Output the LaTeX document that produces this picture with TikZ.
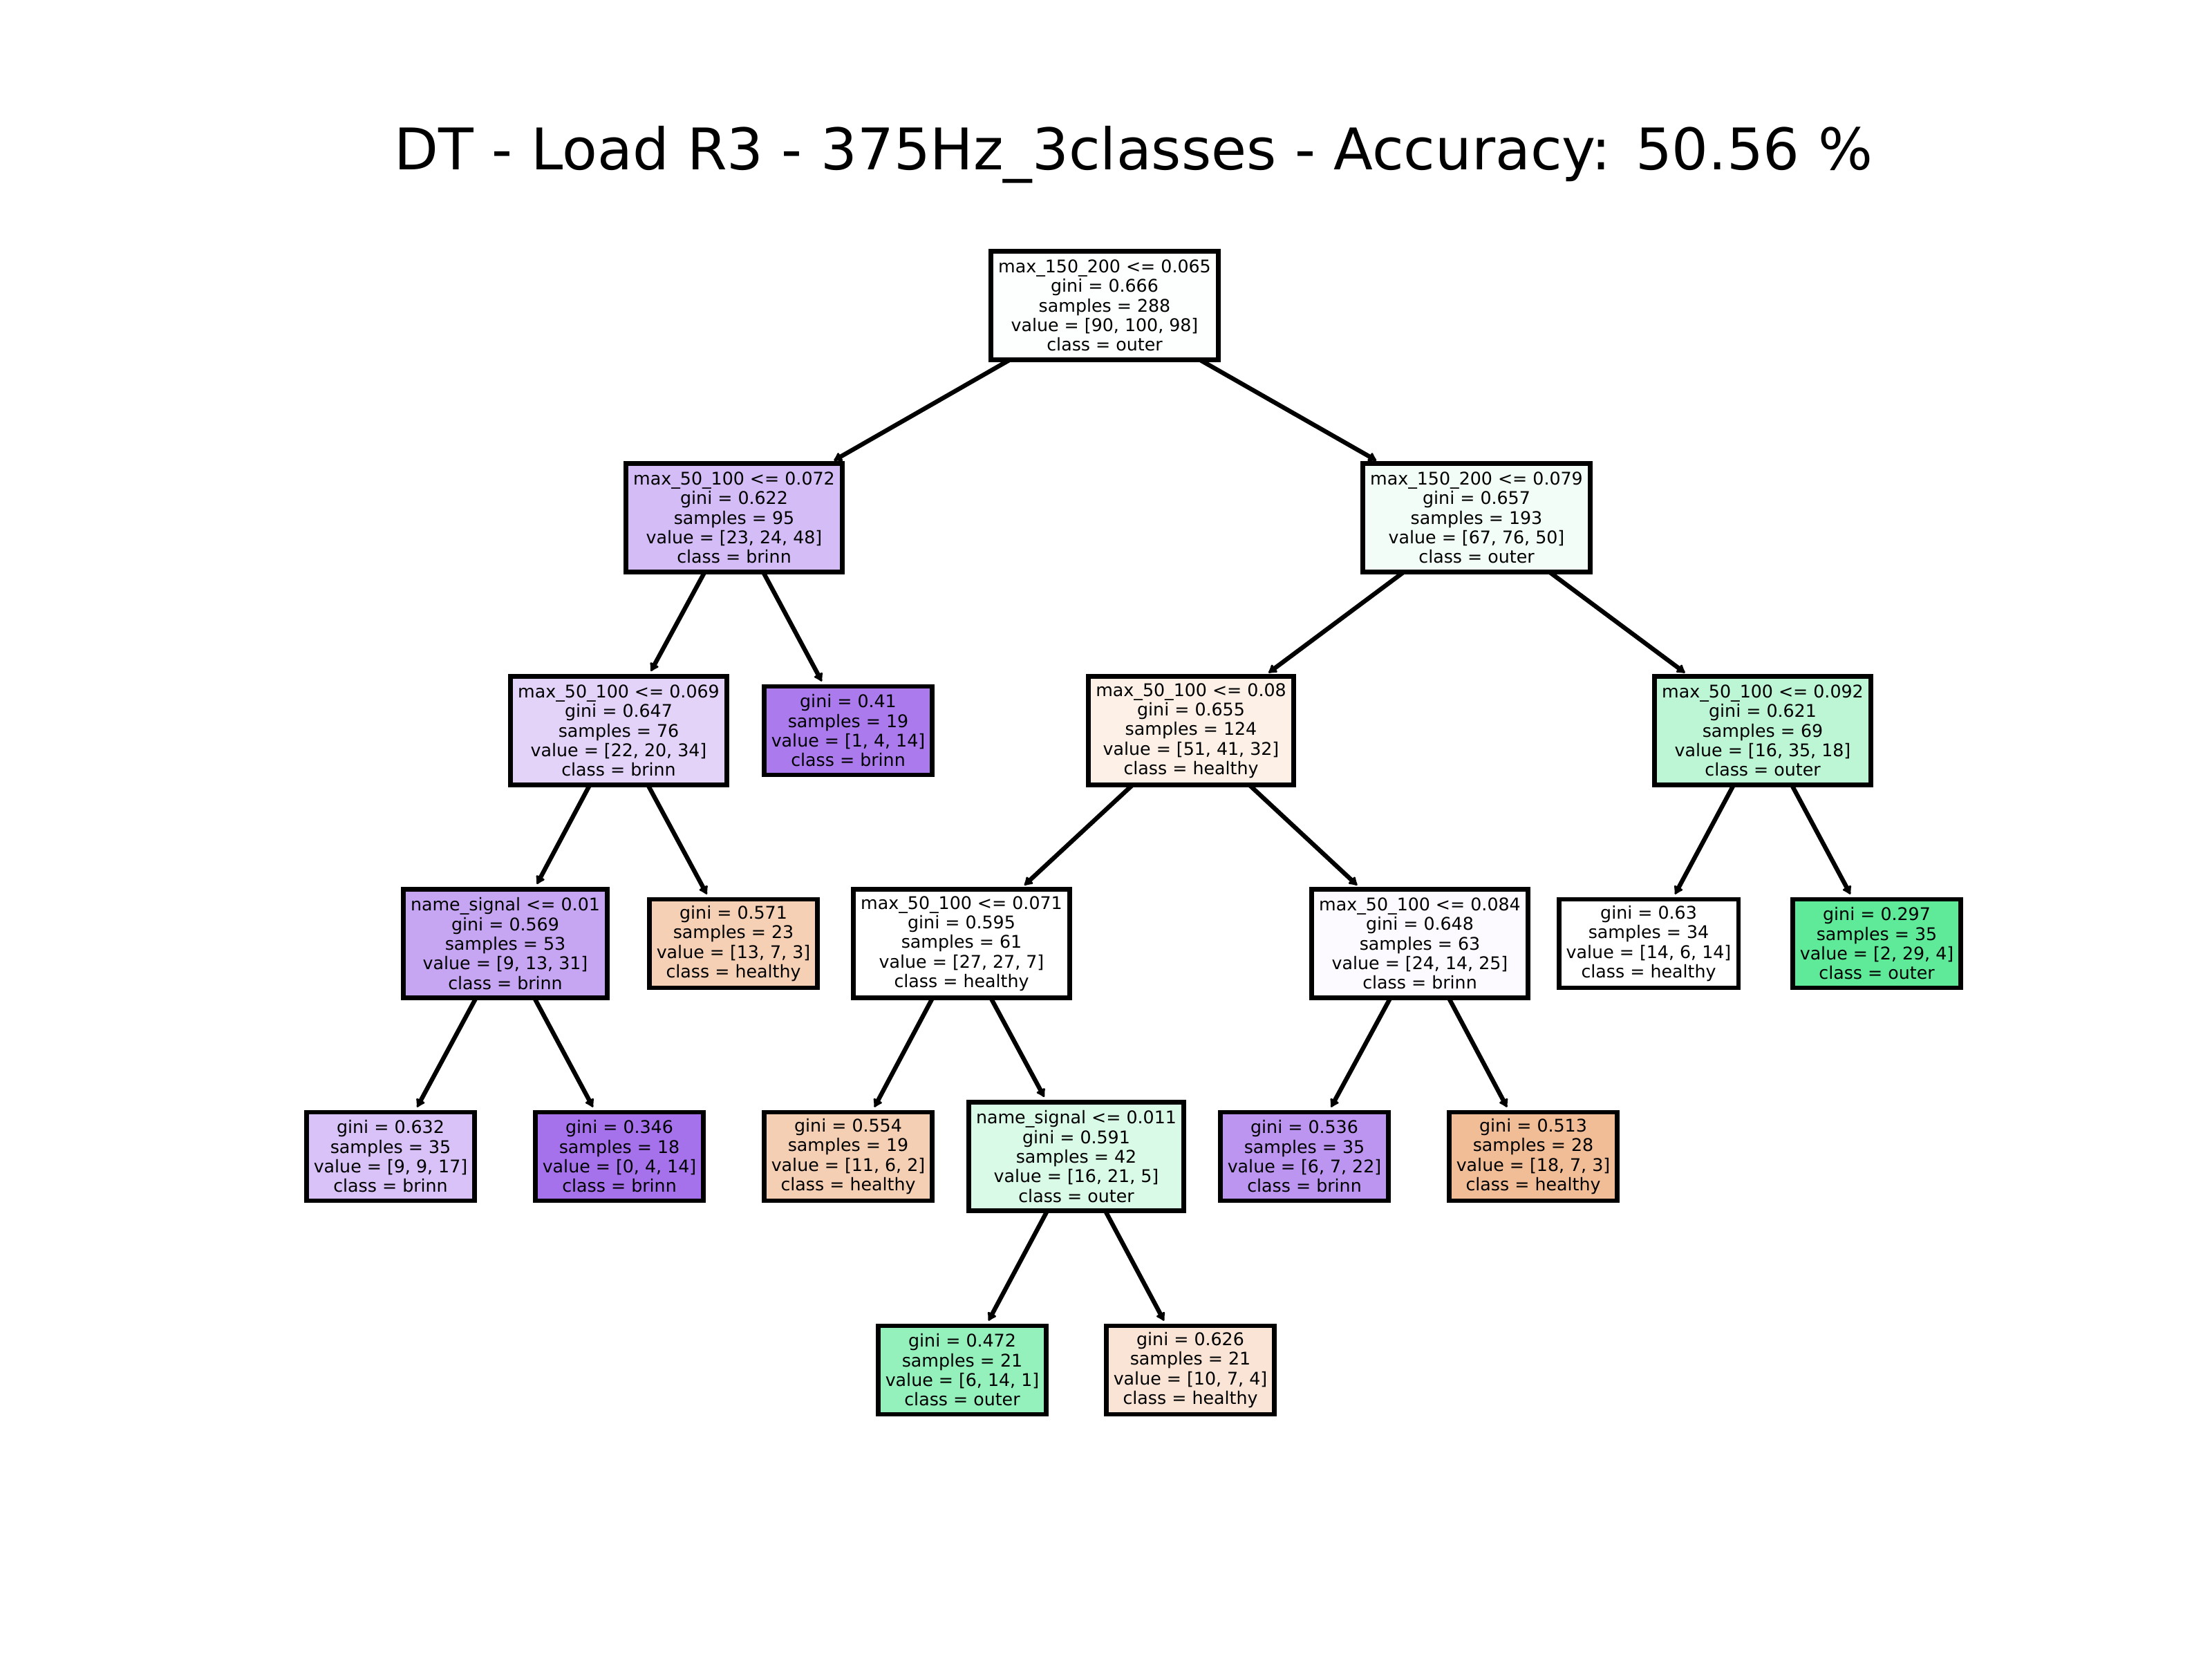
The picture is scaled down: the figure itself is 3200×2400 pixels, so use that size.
\documentclass[tikz,border=0pt]{standalone}
\usepackage{fontspec}
\setmainfont{DejaVu Sans}
\usetikzlibrary{arrows.meta}
\newcommand\us{\string_}
\definecolor{cRoot}{RGB}{253,255,254}
\definecolor{cL}{RGB}{212,188,246}
\definecolor{cR}{RGB}{241,253,246}
\definecolor{cLL}{RGB}{227,211,249}
\definecolor{cLR}{RGB}{171,123,238}
\definecolor{cRL}{RGB}{252,240,231}
\definecolor{cRR}{RGB}{189,246,213}
\definecolor{cLLL}{RGB}{198,166,243}
\definecolor{cLLR}{RGB}{245,208,181}
\definecolor{cRLL}{RGB}{255,255,255}
\definecolor{cRLR}{RGB}{252,250,254}
\definecolor{cRRL}{RGB}{255,255,255}
\definecolor{cRRR}{RGB}{95,234,153}
\definecolor{cLLLL}{RGB}{216,194,247}
\definecolor{cLLLR}{RGB}{165,114,236}
\definecolor{cRLLL}{RGB}{245,207,179}
\definecolor{cRLLR}{RGB}{217,250,231}
\definecolor{cRLRL}{RGB}{188,149,241}
\definecolor{cRLRR}{RGB}{241,189,151}
\definecolor{cLfa}{RGB}{149,241,188}
\definecolor{cLfb}{RGB}{249,228,213}
\begin{document}
\begin{tikzpicture}[x=0.36pt,y=-0.36pt,
  tn/.style={draw=black, line width=2.4pt, align=center,
    font=\fontsize{9.1}{10.2}\selectfont, inner xsep=3.8pt, inner ysep=0pt, outer sep=0pt},
  five/.style={tn, minimum height=56.6pt},
  four/.style={tn, minimum height=46pt},
  edge/.style={line width=2.3pt, -{Latex[length=5pt,width=6.2pt,round]}, shorten >=3pt}]
\useasboundingbox (0,0) rectangle (3200,2400);
\node[anchor=base, font=\fontsize{29.9}{35}\selectfont] (title) at (1640,246)
  {DT - Load R3 - 375Hz\us3classes - Accuracy: 50.56 \%};

\node[five, fill=cRoot] (root) at (1598,442) {max\us150\us200 <= 0.065\\gini = 0.666\\samples = 288\\value = [90, 100, 98]\\class = outer};
\node[five, fill=cL] (L) at (1062,749) {max\us50\us100 <= 0.072\\gini = 0.622\\samples = 95\\value = [23, 24, 48]\\class = brinn};
\node[five, fill=cR] (R) at (2136,749) {max\us150\us200 <= 0.079\\gini = 0.657\\samples = 193\\value = [67, 76, 50]\\class = outer};
\node[five, fill=cLL] (LL) at (895,1057) {max\us50\us100 <= 0.069\\gini = 0.647\\samples = 76\\value = [22, 20, 34]\\class = brinn};
\node[four, fill=cLR] (LR) at (1227,1057) {gini = 0.41\\samples = 19\\value = [1, 4, 14]\\class = brinn};
\node[five, fill=cRL] (RL) at (1723,1057) {max\us50\us100 <= 0.08\\gini = 0.655\\samples = 124\\value = [51, 41, 32]\\class = healthy};
\node[five, fill=cRR] (RR) at (2550,1057) {max\us50\us100 <= 0.092\\gini = 0.621\\samples = 69\\value = [16, 35, 18]\\class = outer};
\node[five, fill=cLLL] (LLL) at (731,1365) {name\us signal <= 0.01\\gini = 0.569\\samples = 53\\value = [9, 13, 31]\\class = brinn};
\node[four, fill=cLLR] (LLR) at (1061,1365) {gini = 0.571\\samples = 23\\value = [13, 7, 3]\\class = healthy};
\node[five, fill=cRLL] (RLL) at (1391,1365) {max\us50\us100 <= 0.071\\gini = 0.595\\samples = 61\\value = [27, 27, 7]\\class = healthy};
\node[five, fill=cRLR] (RLR) at (2054,1365) {max\us50\us100 <= 0.084\\gini = 0.648\\samples = 63\\value = [24, 14, 25]\\class = brinn};
\node[four, fill=cRRL] (RRL) at (2385,1365) {gini = 0.63\\samples = 34\\value = [14, 6, 14]\\class = healthy};
\node[four, fill=cRRR] (RRR) at (2715,1365) {gini = 0.297\\samples = 35\\value = [2, 29, 4]\\class = outer};
\node[four, fill=cLLLL] (LLLL) at (565,1673) {gini = 0.632\\samples = 35\\value = [9, 9, 17]\\class = brinn};
\node[four, fill=cLLLR] (LLLR) at (896,1673) {gini = 0.346\\samples = 18\\value = [0, 4, 14]\\class = brinn};
\node[four, fill=cRLLL] (RLLL) at (1227,1673) {gini = 0.554\\samples = 19\\value = [11, 6, 2]\\class = healthy};
\node[five, fill=cRLLR] (RLLR) at (1557,1673) {name\us signal <= 0.011\\gini = 0.591\\samples = 42\\value = [16, 21, 5]\\class = outer};
\node[four, fill=cRLRL] (RLRL) at (1887,1673) {gini = 0.536\\samples = 35\\value = [6, 7, 22]\\class = brinn};
\node[four, fill=cRLRR] (RLRR) at (2218,1673) {gini = 0.513\\samples = 28\\value = [18, 7, 3]\\class = healthy};
\node[four, fill=cLfa] (Lfa) at (1392,1982) {gini = 0.472\\samples = 21\\value = [6, 14, 1]\\class = outer};
\node[four, fill=cLfb] (Lfb) at (1722,1982) {gini = 0.626\\samples = 21\\value = [10, 7, 4]\\class = healthy};

\draw[edge] (root) -- (L);
\draw[edge] (root) -- (R);
\draw[edge] (L) -- (LL);
\draw[edge] (L) -- (LR);
\draw[edge] (R) -- (RL);
\draw[edge] (R) -- (RR);
\draw[edge] (LL) -- (LLL);
\draw[edge] (LL) -- (LLR);
\draw[edge] (RL) -- (RLL);
\draw[edge] (RL) -- (RLR);
\draw[edge] (RR) -- (RRL);
\draw[edge] (RR) -- (RRR);
\draw[edge] (LLL) -- (LLLL);
\draw[edge] (LLL) -- (LLLR);
\draw[edge] (RLL) -- (RLLL);
\draw[edge] (RLL) -- (RLLR);
\draw[edge] (RLR) -- (RLRL);
\draw[edge] (RLR) -- (RLRR);
\draw[edge] (RLLR) -- (Lfa);
\draw[edge] (RLLR) -- (Lfb);
\end{tikzpicture}
\end{document}
